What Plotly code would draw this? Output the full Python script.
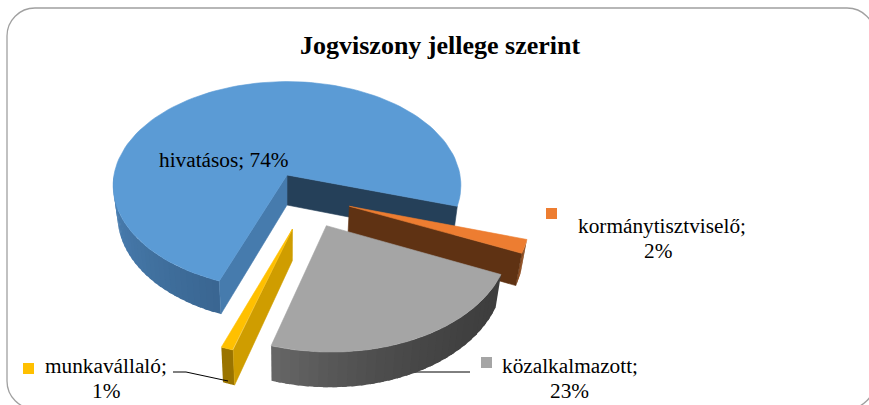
import numpy as np
import plotly.graph_objects as go

categories = ["hivatásos", "kormánytisztviselő", "közalkalmazott", "munkavállaló"]
values = [74, 2, 23, 1]
title = "Jogviszony jellege szerint"

W, H = 869, 405
CX, CY = 287, 175      # projected centre of the pie
R, K, P = 173, 0.594, 0.10
DEPTH, TAPER = 30, 0.975
START = 110.8          # degrees, clockwise on screen from the right
OFFSETS = [(0, 0), (0.35, 0.295), (0.217, 0.47), (0.03, 0.50)]
TOP = ["#5B9BD5", "#ED7D31", "#A5A5A5", "#FFC000"]


def proj(X, Y, low=False):
    s = 1 / (1 - P * Y)
    f = TAPER if low else 1
    return CX + R * X * s * f, CY + K * R * Y * s + (DEPTH * s if low else 0)


def pt(i, ang, low=False):
    ox, oy = OFFSETS[i]
    a = np.radians(ang)
    return proj(ox + np.cos(a), oy + np.sin(a), low)


def apex(i, low=False):
    return proj(*OFFSETS[i], low)


def lerp_hex(c1, c2, t):
    a = [int(c1[j:j + 2], 16) for j in (1, 3, 5)]
    b = [int(c2[j:j + 2], 16) for j in (1, 3, 5)]
    return "#%02x%02x%02x" % tuple(round(u + (v - u) * t) for u, v in zip(a, b))


fig = go.Figure()


def poly(points, color, lw=0.6):
    xs, ys = zip(*points)
    fig.add_trace(go.Scatter(x=list(xs) + [xs[0]], y=list(ys) + [ys[0]], mode="lines", fill="toself",
                             fillcolor=color, line=dict(color=color, width=lw), hoverinfo="skip", showlegend=False))


def top_face(i, a0, a1):
    arc = [pt(i, a) for a in np.linspace(a0, a1, 120)]
    poly([apex(i)] + arc, TOP[i])


def radial_wall(i, ang, color):
    poly([apex(i), pt(i, ang), pt(i, ang, True), apex(i, True)], color)


def outer_wall(i, a0, a1, c0, c1, n=24, gamma=1.0):
    edges = np.linspace(a0, a1, n + 1)
    for j in range(n):
        t = (j / max(n - 1, 1)) ** gamma
        sub = np.linspace(edges[j], min(edges[j + 1] + (a1 - a0) / n * 0.5, a1), 4)
        pts = [pt(i, a) for a in sub] + [pt(i, a, True) for a in sub[::-1]]
        poly(pts, lerp_hex(c0, c1, t), lw=0)


# slice angles from the values
deg = np.array(values) / sum(values) * 360
starts = [START]
for d in deg[:-1]:
    starts.append(starts[-1] + d)
ends = [s + d for s, d in zip(starts, deg)]

# leader line behind the grey slice
fig.add_trace(go.Scatter(x=[412, 470], y=[372, 372], mode="lines", line=dict(color="#000000", width=1),
                         hoverinfo="skip", showlegend=False))

# blue slice
outer_wall(0, starts[0], 180, "#3A6692", "#4C82B5", n=30)
radial_wall(0, ends[0], "#254059")
radial_wall(0, starts[0], "#467BAD")
top_face(0, starts[0], ends[0])

# orange slice
outer_wall(1, starts[1] % 360, ends[1] % 360, "#8A4A1E", "#8A4A1E", n=4)
radial_wall(1, ends[1] % 360, "#5F3213")
top_face(1, starts[1], ends[1])

# grey slice
outer_wall(2, starts[2] % 360, ends[2] % 360, "#3E3E3E", "#666666", n=30, gamma=2.0)
top_face(2, starts[2], ends[2])

# yellow slice
outer_wall(3, starts[3] % 360, ends[3] % 360, "#9A7400", "#9A7400", n=3)
radial_wall(3, starts[3] % 360, "#CF9D00")
top_face(3, starts[3], ends[3])

# leader line and legend keys
fig.add_trace(go.Scatter(x=[173, 186, 228], y=[372, 372, 381], mode="lines", line=dict(color="#000000", width=1),
                         hoverinfo="skip", showlegend=False))
fig.add_trace(go.Scatter(x=[551.5, 486.5, 28.5], y=[213.5, 362.5, 368.5], mode="markers",
                         marker=dict(symbol="square", size=11, color=[TOP[1], TOP[2], TOP[3]], line=dict(width=0)),
                         hoverinfo="skip", showlegend=False))

FONT = "Liberation Serif"
FS = 21.3
label = [
    (224, 160, f"{categories[0]}; {values[0]}%"),
    (662, 226, f"{categories[1]};"),
    (658, 251, f"{values[1]}%"),
    (570, 366, f"{categories[2]};"),
    (569, 391, f"{values[2]}%"),
    (106, 366, f"{categories[3]};"),
    (106, 391, f"{values[3]}%"),
]
ann = [dict(x=x, y=y, text=t, showarrow=False, xanchor="center", yanchor="middle",
            font=dict(family=FONT, size=FS, color="#000000")) for x, y, t in label]
ann.append(dict(x=440, y=45, text=f"<b>{title}</b>", showarrow=False, xanchor="center", yanchor="middle",
                font=dict(family=FONT, size=26, color="#000000")))

border = ("M 35 8 L 847 8 C 862.5 8 875 20.5 875 36 L 875 381 C 875 396.5 862.5 409 847 409 L 35 409 "
          "C 19.5 409 7 396.5 7 381 L 7 36 C 7 20.5 19.5 8 35 8 Z")
fig.update_layout(
    width=W, height=H, margin=dict(l=0, r=0, t=0, b=0), paper_bgcolor="#FFFFFF", plot_bgcolor="#FFFFFF",
    xaxis=dict(range=[0, W], visible=False, fixedrange=True),
    yaxis=dict(range=[H, 0], visible=False, fixedrange=True),
    annotations=ann,
    shapes=[dict(type="path", path=border, line=dict(color="#A0A0A0", width=1.3), layer="below")],
    showlegend=False,
)
fig.write_html("out.html", config={"displayModeBar": False},
               post_script="document.body.style.margin='0';document.body.style.overflow='hidden';")
